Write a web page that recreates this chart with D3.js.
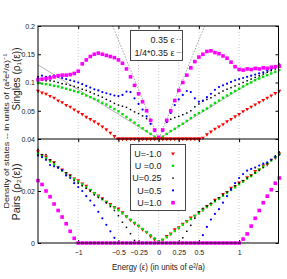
<!DOCTYPE html>
<html>
<head>
<meta charset="utf-8">
<script src="https://cdnjs.cloudflare.com/ajax/libs/d3/7.8.5/d3.min.js"></script>
<style>
  body { margin: 0; background: #fff; }
  text { font-family: "Liberation Sans", Arial, sans-serif; fill: #222; }
</style>
</head>
<body>
<div id="chart"></div>
<script>
// energy grid (units of e^2/a)
const energy = [-1.5,-1.45,-1.4,-1.35,-1.3,-1.25,-1.2,-1.15,-1.1,-1.05,-1,-0.95,-0.9,-0.85,-0.8,-0.75,-0.7,-0.65,-0.6,-0.55,
  -0.5,-0.45,-0.4,-0.35,-0.3,-0.25,-0.2,-0.15,-0.1,-0.05,0,0.05,0.1,0.15,0.2,0.25,0.3,0.35,0.4,0.45,
  0.5,0.55,0.6,0.65,0.7,0.75,0.8,0.85,0.9,0.95,1,1.05,1.1,1.15,1.2,1.25,1.3,1.35,1.4,1.45,1.5];

const seriesLabels = ["U=-1.0", "U =0.0", "U=0.25", "U=0.5", "U=1.0"];
const fitLabels = ["0.35 ε", "1/4*0.35 ε"];
const fitSlopes = [0.35, 0.35 / 4];

// singles, rho_1(eps)
const singlesRed = [0.085,0.082,0.080,0.076,0.073,0.068,0.065,0.060,0.057,0.052,0.048,0.044,0.039,0.035,0.031,0.027,0.022,0.017,0.011,0.005,
  0,0,0,0,0,0,0,0,0,0,0,0,0,0,0,0,0,0,0,0,0,
  0.002,0.008,0.013,0.018,0.022,0.026,0.031,0.035,0.040,0.044,0.049,0.053,0.057,0.061,0.065,0.069,0.073,0.077,0.081,0.085];
const singlesGreen = [0.099,0.098,0.097,0.096,0.094,0.093,0.091,0.089,0.087,0.085,0.083,0.080,0.077,0.074,0.071,0.068,0.064,0.061,0.057,0.053,
  0.049,0.044,0.039,0.034,0.029,0.024,0.019,0.014,0.009,0.004,0,
  0.004,0.009,0.014,0.018,0.023,0.027,0.032,0.037,0.042,0.046,0.050,0.054,0.059,0.064,0.068,0.073,0.077,0.081,0.085,0.089,
  0.093,0.097,0.100,0.104,0.107,0.110,0.113,0.116,0.119,0.122];
const singlesBlack = [0.103,0.104,0.103,0.103,0.102,0.100,0.098,0.097,0.095,0.093,0.091,0.088,0.086,0.083,0.080,0.077,0.074,0.070,0.067,0.063,
  0.060,0.058,0.056,0.052,0.048,0.045,0.041,0.036,0.027,0.014,0,
  0.015,0.030,0.035,0.038,0.040,0.043,0.046,0.050,0.057,0.062,0.067,0.070,0.073,0.077,0.081,0.085,0.088,0.091,0.094,0.097,
  0.100,0.103,0.106,0.109,0.112,0.115,0.118,0.121,0.124,0.127];
const singlesBlue = [0.110,0.112,0.110,0.111,0.112,0.110,0.108,0.106,0.104,0.102,0.100,0.097,0.094,0.091,0.088,0.086,0.083,0.081,0.079,0.077,
  0.076,0.078,0.084,0.083,0.072,0.062,0.052,0.040,0.027,0.014,0.002,
  0.014,0.030,0.046,0.060,0.070,0.078,0.085,0.083,0.072,0.066,0.068,0.074,0.080,0.087,0.092,0.095,0.098,0.101,0.104,0.106,
  0.108,0.110,0.112,0.114,0.116,0.118,0.121,0.124,0.128,0.132];
const singlesMagenta = [0.105,0.106,0.107,0.108,0.110,0.112,0.113,0.113,0.114,0.116,0.120,0.133,0.140,0.146,0.150,0.152,0.150,0.148,0.146,0.144,
  0.140,0.134,0.124,0.110,0.095,0.080,0.066,0.050,0.033,0.016,0.003,
  0.016,0.033,0.050,0.068,0.086,0.100,0.113,0.126,0.137,0.145,0.150,0.155,0.156,0.153,0.151,0.147,0.143,0.136,0.128,0.123,
  0.122,0.124,0.123,0.125,0.124,0.126,0.125,0.127,0.128,0.129];

// pairs, rho_2(eps)
const pairsRed = [0.0352,0.0338,0.0332,0.0318,0.031,0.0292,0.0282,0.0268,0.026,0.0248,0.0241,0.0228,0.022,0.0203,0.0192,0.0182,0.0172,0.0158,0.015,0.0138,
  0.0132,0.0118,0.0102,0.0088,0.0076,0.0066,0.0052,0.0042,0.0026,0.0014,0.0004,
  0.0012,0.0026,0.0036,0.0052,0.006,0.0074,0.0084,0.0098,0.0104,0.0118,0.0128,0.0142,0.015,0.0166,0.0172,0.0188,0.0196,0.0212,0.0218,0.0232,
  0.0238,0.0252,0.026,0.0276,0.0282,0.0298,0.0302,0.032,0.0328,0.0344];
const pairsGreen = [0.0345,0.0335,0.0326,0.0314,0.0302,0.0292,0.0278,0.0268,0.0256,0.0246,0.0236,0.0226,0.0214,0.0204,0.0192,0.018,0.0168,0.0158,0.0146,0.0136,
  0.0126,0.0114,0.0102,0.009,0.0078,0.0066,0.0054,0.0042,0.003,0.0018,0.0006,
  0.0012,0.0022,0.0034,0.0046,0.0058,0.007,0.0082,0.0092,0.0104,0.0114,0.0126,0.0138,0.0148,0.016,0.017,0.0182,0.0194,0.0204,0.0214,0.0226,
  0.0236,0.0248,0.0258,0.027,0.0282,0.0294,0.0306,0.0318,0.033,0.0342];
const pairsBlack = [0.036,0.034,0.034,0.032,0.031,0.029,0.028,0.027,0.026,0.024,0.023,0.022,0.021,0.020,0.0185,0.0175,0.017,0.0155,0.014,0.0125,
  0.0105,0.008,0.006,0.0036,0.001,
  0,0,0,0,0,0,0,0,0,0,0,
  0.002,0.0045,0.0068,0.0095,0.012,0.0133,0.0142,0.0153,0.0163,0.0174,0.0185,0.0196,0.0208,0.022,0.023,
  0.024,0.025,0.026,0.027,0.028,0.029,0.0305,0.032,0.0335,0.035];
const pairsBlue = [0.0337,0.033,0.032,0.030,0.0295,0.029,0.028,0.026,0.025,0.023,0.0215,0.020,0.018,0.0163,0.0145,0.012,0.0095,0.007,0.0045,0.002,
  0,0,0,0,0,0,0,0,0,0,0,0,0,0,0,0,0,0,0,0,0,
  0.003,0.0062,0.009,0.0112,0.013,0.0155,0.018,0.0205,0.023,0.025,0.0265,0.0278,0.0285,0.029,0.0298,0.0305,0.031,0.032,0.033,0.034];
const pairsMagenta = [0.024,0.0225,0.020,0.0178,0.015,0.0125,0.010,0.0074,0.0045,0.0018,
  0,0,0,0,0,0,0,0,0,0,0,0,0,0,0,0,0,0,0,0,0,0,0,0,0,0,0,0,0,0,0,0,0,0,0,0,0,0,0,0,0,
  0.0015,0.0035,0.0065,0.0095,0.0125,0.0155,0.018,0.0205,0.023,0.025];

const xTicks = [-1, -0.5, -0.25, 0, 0.25, 0.5, 1];
const singlesTicks = [0.05, 0.1, 0.15, 0.2];
const pairsTicks = [0, 0.02, 0.04];

const series = [
  {label: seriesLabels[0], color: "#ff0000", shape: "tri", size: 3.8, singles: singlesRed, pairs: pairsRed},
  {label: seriesLabels[1], color: "#00e000", shape: "sq", size: 2.4, singles: singlesGreen, pairs: pairsGreen},
  {label: seriesLabels[2], color: "#000000", shape: "sq", size: 1.5, singles: singlesBlack, pairs: pairsBlack},
  {label: seriesLabels[3], color: "#0000ff", shape: "dot", size: 1.1, singles: singlesBlue, pairs: pairsBlue},
  {label: seriesLabels[4], color: "#ff00ff", shape: "sq", size: 3.6, singles: singlesMagenta, pairs: pairsMagenta}
];

const W = 287, H = 279;
const padL = 38, padR = 278.5, padT = 26, mid = 139, padB = 243;

const x = d3.scaleLinear().domain([-1.5, 1.49]).range([padL, padR]);
const ySingles = d3.scaleLinear().domain([0, 0.2]).range([mid, padT]);
const yPairs = d3.scaleLinear().domain([0, 0.04]).range([padB, mid]);

const svg = d3.select("#chart").append("svg")
  .attr("width", W).attr("height", H);
svg.append("rect").attr("width", W).attr("height", H).attr("fill", "#fff");

function marker(sel, s) {
  if (s.shape === "tri") {
    sel.append("path")
      .attr("d", d3.symbol(d3.symbolTriangle, s.size * s.size * 0.45)())
      .attr("transform", "rotate(180)")
      .attr("fill", s.color);
  } else if (s.shape === "dot") {
    sel.append("circle").attr("r", s.size).attr("fill", s.color);
  } else {
    sel.append("rect")
      .attr("x", -s.size / 2).attr("y", -s.size / 2)
      .attr("width", s.size).attr("height", s.size)
      .attr("fill", s.color);
  }
}

function drawPanel(y, key, ticks, y0, y1, id) {
  const g = svg.append("g");

  svg.append("clipPath").attr("id", id)
    .append("rect").attr("x", padL).attr("y", y0)
    .attr("width", padR - padL).attr("height", y1 - y0);

  // dotted verticals
  g.selectAll(".grid").data(xTicks).join("line")
    .attr("x1", d => x(d)).attr("x2", d => x(d))
    .attr("y1", y0).attr("y2", y1)
    .attr("stroke", "#b8b8b8").attr("stroke-width", 0.7)
    .attr("stroke-dasharray", "1,2");

  // inward ticks, left/right
  g.append("g").attr("transform", `translate(${padL},0)`)
    .call(d3.axisLeft(y).tickValues(ticks).tickSize(-3).tickPadding(3)
      .tickFormat(d => key === "singles" && d === 0 ? "" : d3.format("~g")(d)))
    .call(a => a.select(".domain").remove())
    .call(a => a.selectAll("text").attr("font-size", 7).attr("fill", "#333"));
  g.append("g").attr("transform", `translate(${padR},0)`)
    .call(d3.axisRight(y).tickValues(ticks).tickSize(-3).tickFormat(""))
    .call(a => a.select(".domain").remove());

  // inward x ticks
  g.append("g").attr("transform", `translate(0,${y0})`)
    .call(d3.axisTop(x).tickValues(xTicks).tickSize(-3).tickFormat(""))
    .call(a => a.select(".domain").remove());

  return g;
}

const gS = drawPanel(ySingles, "singles", singlesTicks, padT, mid, "clipS");
const gP = drawPanel(yPairs, "pairs", pairsTicks, mid, padB, "clipP");

// reference lines for singles
const fitLine = d3.line().x(d => x(d[0])).y(d => ySingles(d[1]));
fitSlopes.forEach((k, i) => {
  gS.append("path")
    .datum([[-1.5, 1.5 * k], [0, 0], [1.5, 1.5 * k]])
    .attr("d", fitLine)
    .attr("clip-path", "url(#clipS)")
    .attr("fill", "none")
    .attr("stroke", i === 0 ? "#8a8a8a" : "#a0a0a0")
    .attr("stroke-width", 0.8)
    .attr("stroke-dasharray", i === 0 ? "1.5,1.5" : null);
});

// bottom x axis
gP.append("g").attr("transform", `translate(0,${padB})`)
  .call(d3.axisBottom(x).tickValues(xTicks).tickSize(-3).tickPadding(7)
    .tickFormat(d3.format("~g")))
  .call(a => a.select(".domain").remove())
  .call(a => a.selectAll("text").attr("font-size", 7).attr("fill", "#333"));

// points
function drawPoints(g, y, key) {
  series.forEach(s => {
    const pts = g.append("g").selectAll("g").data(energy.map((e, i) => [e, s[key][i]]))
      .join("g")
      .attr("transform", d => `translate(${x(d[0])},${y(d[1])})`);
    marker(pts, s);
  });
}
drawPoints(gS, ySingles, "singles");
drawPoints(gP, yPairs, "pairs");

// frames
svg.append("rect").attr("x", padL).attr("y", padT)
  .attr("width", padR - padL).attr("height", padB - padT)
  .attr("fill", "none").attr("stroke", "#000").attr("stroke-width", 1);
svg.append("line").attr("x1", padL).attr("x2", padR)
  .attr("y1", mid).attr("y2", mid)
  .attr("stroke", "#000").attr("stroke-width", 1.2);

// zero-level points sit on the divider, redraw on top
gS.append("g").selectAll("rect")
  .data(energy.filter((e, i) => singlesRed[i] === 0))
  .join("rect")
  .attr("x", d => x(d) - 2).attr("y", mid - 1.7)
  .attr("width", 4).attr("height", 2.3)
  .attr("fill", "#ff0000");

// legend, singles
const lg1 = svg.append("g");
lg1.append("rect").attr("x", 130.5).attr("y", 30.5).attr("width", 52).attr("height", 30)
  .attr("fill", "#fff").attr("stroke", "#333").attr("stroke-width", 0.9);
fitLabels.forEach((t, i) => {
  const yy = 39.5 + i * 13;
  lg1.append("text").attr("x", 174.5).attr("y", yy).attr("dy", "0.35em")
    .attr("text-anchor", "end").attr("font-size", 9).text(t);
  lg1.append("line").attr("x1", 176.5).attr("x2", 181.5).attr("y1", yy).attr("y2", yy)
    .attr("stroke", i === 0 ? "#8a8a8a" : "#a0a0a0").attr("stroke-width", 0.8)
    .attr("stroke-dasharray", i === 0 ? "1.5,1.5" : null);
});

// legend, pairs
const lg2 = svg.append("g");
lg2.append("rect").attr("x", 130.5).attr("y", 144.5).attr("width", 55).attr("height", 66)
  .attr("fill", "#fff").attr("stroke", "#333").attr("stroke-width", 0.9);
series.forEach((s, i) => {
  const yy = 153.5 + i * 12.3;
  lg2.append("text").attr("x", 161.5).attr("y", yy).attr("dy", "0.35em")
    .attr("text-anchor", "end").attr("font-size", 9).text(s.label);
  marker(lg2.append("g").attr("transform", `translate(173,${yy})`), s);
});

// axis titles
svg.append("text").attr("transform", "translate(19.5,79) rotate(-90)")
  .attr("text-anchor", "middle").attr("font-size", 10)
  .attr("textLength", 63).attr("lengthAdjust", "spacingAndGlyphs")
  .text("Singles (ρ₁(ε))");
svg.append("text").attr("transform", "translate(19.5,192) rotate(-90)")
  .attr("text-anchor", "middle").attr("font-size", 10)
  .attr("textLength", 57).attr("lengthAdjust", "spacingAndGlyphs")
  .text("Pairs (ρ₂(ε))");
svg.append("text").attr("transform", "translate(8.5,131) rotate(-90)")
  .attr("text-anchor", "middle").attr("font-size", 7.5)
  .attr("textLength", 155).attr("lengthAdjust", "spacingAndGlyphs")
  .text("Density of states -- in units of (a²e²/a)⁻¹");
svg.append("text").attr("x", 158.5).attr("y", 269.5)
  .attr("text-anchor", "middle").attr("font-size", 9)
  .attr("textLength", 93).attr("lengthAdjust", "spacingAndGlyphs")
  .text("Energy (ε) (in units of e²/a)");
</script>
</body>
</html>
